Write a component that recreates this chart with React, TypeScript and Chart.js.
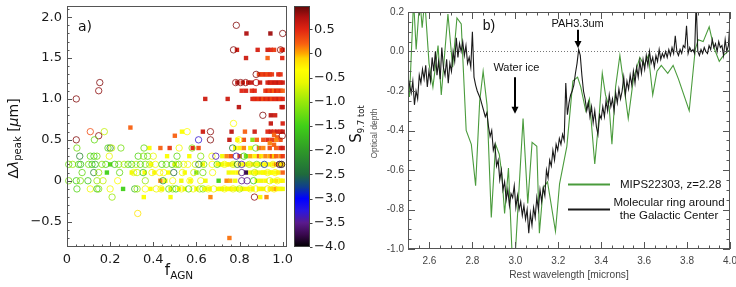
import React, { useEffect, useRef } from "react";
import { Chart, registerables } from "chart.js";

Chart.register(...registerables);

// ---------------- Panel a) data ----------------
const fAgnTicks = [0, 0.2, 0.4, 0.6, 0.8, 1.0];
const dLambdaTicks = [-0.5, 0, 0.5, 1.0, 1.5, 2.0];
const s97Ticks = [-4.0, -3.5, -3.0, -2.5, -2.0, -1.5, -1.0, -0.5, 0, 0.5];

// [f_AGN, delta lambda_peak, S_9.7 tot] — open circles
const hollowPoints: [number, number, number][] = [
  [0.785, 1.9, 0.88], [1.0, 1.8, 0.88], [0.772, 1.6, 0.88], [0.99, 1.6, 0.88],
  [0.877, 1.3, 0.9], [0.152, 1.2, 0.88], [0.782, 1.2, 0.85], [0.805, 1.2, 0.85], [0.828, 1.2, 0.85], [0.877, 1.2, 0.75],
  [0.147, 1.1, 0.85], [0.043, 1.0, 0.88], [0.908, 0.8, 0.88], [0.772, 0.7, -0.4],
  [0.108, 0.6, 0.3], [0.173, 0.6, -0.8], [0.557, 0.6, -0.35], [0.665, 0.6, 0.85],
  [0.147, 0.55, 0.85], [0.998, 0.55, 0.85],
  [0.043, 0.5, 0.88], [0.127, 0.5, -1.3], [0.61, 0.5, -3.3], [0.665, 0.5, 0.88], [0.797, 0.5, -0.4],
  [0.046, 0.4, -1.2], [0.19, 0.4, -1.4], [0.2, 0.4, -2.2], [0.207, 0.4, -0.8], [0.25, 0.4, -1.2], [0.357, 0.4, -1.3],
  [0.52, 0.4, -0.5], [0.58, 0.4, -1.1], [0.768, 0.4, -2.3], [0.875, 0.4, -1.3],
  [0.059, 0.3, -2.2], [0.108, 0.3, -1.3], [0.125, 0.3, -1.5], [0.139, 0.3, -1.2], [0.196, 0.3, -0.6], [0.33, 0.3, -1.4],
  [0.355, 0.3, -1.1], [0.374, 0.3, -1.3], [0.4, 0.3, -0.6], [0.51, 0.3, -1.3], [0.62, 0.3, -1.1], [0.672, 0.3, -0.5],
  [0.69, 0.3, -3.4], [0.785, 0.3, -3.4], [0.82, 0.3, -1.5],
  [0.008, 0.2, -1.3], [0.026, 0.2, -1.0], [0.054, 0.2, -1.4], [0.063, 0.2, -1.7], [0.1, 0.2, -1.2], [0.116, 0.2, -1.5],
  [0.131, 0.2, -1.8], [0.162, 0.2, -1.1], [0.18, 0.2, -1.4], [0.221, 0.2, -1.6], [0.24, 0.2, -1.2], [0.265, 0.2, -0.9],
  [0.283, 0.2, -1.3], [0.3, 0.2, -1.5], [0.32, 0.2, -0.8], [0.34, 0.2, -1.4], [0.363, 0.2, -1.2], [0.383, 0.2, -0.9],
  [0.41, 0.2, -0.5], [0.44, 0.2, -1.4], [0.46, 0.2, -1.2], [0.487, 0.2, -1.6], [0.505, 0.2, -0.9], [0.518, 0.2, -1.3],
  [0.541, 0.2, -0.6], [0.56, 0.2, -0.4], [0.595, 0.2, -0.8], [0.611, 0.2, -2.4], [0.634, 0.2, -1.2], [0.673, 0.2, -0.4],
  [0.696, 0.2, -1.4], [0.73, 0.2, -0.5], [0.77, 0.2, -0.7], [0.79, 0.2, -2.3], [0.81, 0.2, -3.4], [0.845, 0.2, -0.9],
  [0.88, 0.2, -1.2], [0.915, 0.2, -2.8], [0.955, 0.2, -0.6], [0.985, 0.2, -3.8], [0.995, 0.2, -3.9],
  [0.07, 0.1, -1.3], [0.124, 0.1, -2.2], [0.147, 0.1, -1.0], [0.244, 0.1, -1.3], [0.309, 0.1, -0.5], [0.325, 0.1, -0.8],
  [0.353, 0.1, -1.6], [0.394, 0.1, -0.6], [0.43, 0.1, -0.3], [0.448, 0.1, -0.5], [0.495, 0.1, -2.5], [0.535, 0.1, -0.6],
  [0.588, 0.1, -0.7], [0.63, 0.1, -1.2], [0.675, 0.1, -0.5], [0.81, 0.1, -3.5], [0.87, 0.1, -0.8], [0.93, 0.1, -0.5], [0.965, 0.1, -0.3],
  [0.008, 0.0, -1.2], [0.043, 0.0, -1.5], [0.062, 0.0, -1.1], [0.097, 0.0, -1.6], [0.139, 0.0, -1.0], [0.167, 0.0, -0.8],
  [0.235, 0.0, -0.4], [0.363, 0.0, -1.0], [0.445, 0.0, -2.0], [0.49, 0.0, -0.5], [0.57, 0.0, -0.4], [0.62, 0.0, -0.6],
  [0.81, 0.0, -3.5], [0.835, 0.0, -3.5], [0.865, 0.0, -1.5], [0.94, 0.0, -0.7], [0.975, 0.0, -0.4],
  [0.046, -0.1, -1.4], [0.108, -0.1, -0.5], [0.139, -0.1, -1.6], [0.147, -0.1, -1.1], [0.2, -0.1, -0.5], [0.314, -0.1, -1.7],
  [0.325, -0.1, -1.0], [0.363, -0.1, -0.4], [0.414, -0.1, -0.6], [0.436, -0.1, -0.3], [0.472, -0.1, -1.3], [0.49, -0.1, -0.9],
  [0.505, -0.1, -1.5], [0.53, -0.1, -0.5], [0.564, -0.1, -1.4], [0.585, -0.1, -0.5], [0.615, -0.1, -0.9], [0.63, -0.1, -1.1],
  [0.655, -0.1, -0.4], [0.68, -0.1, -0.5], [0.73, -0.1, -0.4], [0.77, -0.1, -0.6], [0.8, -0.1, -0.9], [0.85, -0.1, -0.4],
  [0.875, -0.1, -0.3], [0.93, -0.1, -0.2], [0.96, -0.1, -0.3],
  [0.209, -0.2, -1.0], [0.869, -0.2, 0.85], [0.328, -0.4, -0.2],
];

// [f_AGN, delta lambda_peak, S_9.7 tot] — filled squares
const solidPoints: [number, number, number][] = [
  [0.832, 1.8, 0.75], [0.943, 1.8, 0.8],
  [0.788, 1.6, 0.6], [0.884, 1.6, 0.55], [0.93, 1.6, 0.6], [0.945, 1.6, 0.5], [0.96, 1.6, 0.4], [0.995, 1.6, 0.3], [1.0, 1.6, 0.5],
  [0.83, 1.5, 0.6], [0.93, 1.5, 0.2], [0.998, 1.5, 0.5],
  [0.89, 1.3, 0.35], [0.9, 1.3, 0.4], [0.91, 1.3, 0.35], [0.92, 1.3, 0.45], [0.93, 1.3, 0.3], [0.94, 1.3, 0.45], [0.95, 1.3, 0.4],
  [0.98, 1.3, 0.5], [0.99, 1.3, 0.45],
  [0.79, 1.2, 0.7], [0.815, 1.2, 0.55], [0.84, 1.2, 0.6], [0.855, 1.2, 0.65], [0.895, 1.2, 0.6], [0.93, 1.2, 0.55], [0.94, 1.2, 0.65],
  [0.95, 1.2, 0.5], [0.96, 1.2, 0.6], [0.97, 1.2, 0.55], [0.98, 1.2, 0.65], [0.99, 1.2, 0.5], [1.0, 1.2, 0.6],
  [0.81, 1.1, 0.5], [0.83, 1.1, 0.55], [0.857, 1.1, 0.45], [0.87, 1.1, 0.5], [0.92, 1.1, 0.4], [0.93, 1.1, 0.5], [0.94, 1.1, 0.3],
  [0.95, 1.1, 0.45], [0.96, 1.1, 0.2], [0.97, 1.1, 0.5], [0.98, 1.1, 0.35], [0.99, 1.1, 0.45], [1.0, 1.1, 0.2],
  [0.641, 1.0, 0.6], [0.745, 1.0, 0.6], [0.86, 1.0, 0.55], [0.87, 1.0, 0.45], [0.88, 1.0, 0.5], [0.89, 1.0, 0.4], [0.9, 1.0, 0.55],
  [0.91, 1.0, 0.3], [0.92, 1.0, 0.5], [0.93, 1.0, 0.4], [0.94, 1.0, 0.55], [0.95, 1.0, 0.35], [0.96, 1.0, 0.5], [0.97, 1.0, 0.45],
  [0.98, 1.0, 0.55], [0.99, 1.0, 0.4], [1.0, 1.0, 0.5],
  [0.797, 0.9, 0.7], [0.995, 0.9, 0.6], [1.0, 0.9, 0.65],
  [0.945, 0.8, 0.7], [0.965, 0.8, 0.6], [0.945, 0.7, 0.65], [1.0, 0.7, 0.55],
  [0.294, 0.65, 0.2],
  [0.533, 0.6, -0.4], [0.63, 0.6, 0.6], [0.763, 0.6, 0.7], [0.825, 0.6, 0.2], [0.87, 0.6, 0.6], [0.93, 0.6, 0.5], [0.945, 0.6, 0.6],
  [0.96, 0.6, 0.45], [0.975, 0.6, 0.6], [0.99, 0.6, 0.5], [1.0, 0.6, 0.65],
  [0.5, 0.55, 0.2], [0.96, 0.56, 0.2], [0.975, 0.53, 0.25],
  [0.753, 0.5, 0.65], [0.79, 0.5, -0.3], [0.82, 0.5, 0.3], [0.86, 0.5, -1.1], [0.88, 0.5, 0.2], [0.91, 0.5, 0.3], [0.93, 0.5, 0.5],
  [0.95, 0.5, 0.4], [0.97, 0.5, 0.1], [0.99, 0.5, 0.3],
  [0.94, 0.46, 0.1], [0.96, 0.44, 0.2],
  [0.382, 0.4, -0.4], [0.433, 0.4, 0.2], [0.476, 0.4, 0.4], [0.583, 0.4, 0.5], [0.61, 0.4, 0.3], [0.78, 0.4, -0.4], [0.8, 0.4, -0.3],
  [0.82, 0.4, 0.1], [0.85, 0.4, -0.5], [0.89, 0.4, 0.2], [0.91, 0.4, 0.1], [0.94, 0.4, 0.3], [0.97, 0.4, 0.2], [0.99, 0.4, 0.5], [1.0, 0.4, 0.6],
  [0.464, 0.3, -0.4], [0.567, 0.3, -0.4], [0.72, 0.3, -0.5], [0.74, 0.3, 0.1], [0.76, 0.3, 0.3], [0.8, 0.3, 0.4], [0.83, 0.3, -1.2],
  [0.85, 0.3, 0.0], [0.87, 0.3, -0.3], [0.89, 0.3, 0.2], [0.9, 0.3, -0.2], [0.92, 0.3, 0.1], [0.94, 0.3, 0.0], [0.95, 0.3, 0.3],
  [0.96, 0.3, -0.1], [0.97, 0.3, 0.2], [0.99, 0.3, 0.1], [1.0, 0.3, 0.4],
  [0.2, 0.2, -1.4], [0.39, 0.2, -0.4], [0.5, 0.2, -0.5], [0.63, 0.2, -0.4], [0.7, 0.2, -0.5], [0.71, 0.2, -0.3], [0.72, 0.2, -0.5],
  [0.74, 0.2, -0.4], [0.75, 0.2, -0.2], [0.77, 0.2, -0.5], [0.8, 0.2, -0.4], [0.82, 0.2, -0.3], [0.84, 0.2, -0.5], [0.86, 0.2, -0.2],
  [0.88, 0.2, -0.4], [0.9, 0.2, -0.5], [0.92, 0.2, -0.3], [0.94, 0.2, -0.4], [0.96, 0.2, -0.2], [0.97, 0.2, 0.1], [0.99, 0.2, -0.3], [1.0, 0.2, -0.1],
  [0.185, 0.1, -1.5], [0.3, 0.1, -0.5], [0.36, 0.1, -0.4], [0.405, 0.1, -0.3], [0.47, 0.1, -0.4], [0.546, 0.1, -0.4], [0.6, 0.1, -1.2],
  [0.75, 0.1, -0.5], [0.77, 0.1, -0.4], [0.79, 0.1, -0.3], [0.83, 0.1, -3.8], [0.85, 0.1, -0.5], [0.87, 0.1, -0.4], [0.88, 0.1, -0.3],
  [0.9, 0.1, -0.5], [0.91, 0.1, -0.4], [0.92, 0.1, -0.3], [0.94, 0.1, -0.45], [0.95, 0.1, -0.35], [0.97, 0.1, -0.4], [0.98, 0.1, -0.2], [1.0, 0.1, 0.2],
  [0.433, 0.0, 0.1], [0.456, 0.0, -0.4], [0.53, 0.0, -0.5], [0.572, 0.0, -0.4], [0.642, 0.0, -0.5], [0.703, 0.0, -1.5], [0.74, 0.0, 0.1],
  [0.757, 0.0, 0.0], [0.78, 0.0, -0.5], [0.88, 0.0, -0.4], [0.9, 0.0, -0.5], [0.92, 0.0, -0.3], [0.95, 0.0, -0.4], [0.97, 0.0, -0.2],
  [0.99, 0.0, -0.4], [1.0, 0.0, -0.3],
  [0.26, -0.1, -1.5], [0.387, -0.1, -0.4], [0.44, -0.1, -0.5], [0.48, -0.1, -0.4], [0.52, -0.1, -0.3], [0.545, -0.1, -0.5], [0.6, -0.1, -0.4],
  [0.64, -0.1, -0.4], [0.66, -0.1, -0.5], [0.7, -0.1, -0.5], [0.71, -0.1, -0.4], [0.72, -0.1, -0.6], [0.74, -0.1, -0.5], [0.75, -0.1, -0.4],
  [0.76, -0.1, -0.3], [0.78, -0.1, -0.5], [0.79, -0.1, -0.4], [0.81, -0.1, -0.5], [0.82, -0.1, -0.3], [0.84, -0.1, -0.4], [0.86, -0.1, -0.5],
  [0.89, -0.1, -0.4], [0.9, -0.1, -0.3], [0.91, -0.1, -0.5], [0.94, -0.1, -0.4], [0.95, -0.1, -0.1], [0.97, -0.1, 0.0], [0.98, -0.1, -0.3],
  [0.99, -0.1, -0.4], [1.0, -0.1, -0.5],
  [0.356, -0.2, -0.4], [0.48, -0.2, -0.4], [0.665, -0.2, 0.1], [0.896, -0.2, -0.4], [0.925, -0.2, 0.1],
  [0.753, -0.7, 0.15],
];

// ---------------- Panel b) data ----------------
const waveTicks = [2.6, 2.8, 3.0, 3.2, 3.4, 3.6, 3.8, 4.0];
const depthTicks = [-1.0, -0.8, -0.6, -0.4, -0.2, 0.0, 0.2];

const mipsWave = [
  2.5, 2.507, 2.526, 2.538, 2.555, 2.566, 2.578, 2.598, 2.616, 2.64, 2.655, 2.686, 2.708, 2.728, 2.748, 2.771, 2.795,
  2.815, 2.834, 2.85, 2.868, 2.888, 2.908, 2.925, 2.937, 2.95, 2.968, 2.985, 2.998, 3.036, 3.058, 3.078, 3.1, 3.112,
  3.13, 3.15, 3.187, 3.206, 3.24, 3.268, 3.29, 3.305, 3.328, 3.345, 3.37, 3.39, 3.405, 3.42, 3.437, 3.45, 3.467, 3.487,
  3.526, 3.55, 3.58, 3.6, 3.62, 3.64, 3.66, 3.68, 3.71, 3.735, 3.76, 3.81, 3.838, 3.852, 3.875, 3.903, 3.925, 3.95, 3.97, 4.0,
];
const mipsDepth = [
  -0.1, -0.23, 0.26, 0.01, 0.27, 0.12, 0.26, -0.06, -0.18, 0.03, -0.22, 0.19, -0.08, 0.17, 0.14, -0.4, -0.47,
  -0.68, -0.25, -0.1, -0.27, -0.84, -0.47, -0.52, -0.62, -0.82, -0.59, -1.03, -1.06, -0.34, -0.77, -0.46, -0.48, -0.92,
  -0.69, -0.66, -0.91, -0.67, -0.48, -0.15, -0.13, -0.18, -0.3, -0.24, -0.57, -0.33, -0.11, -0.22, -0.28, -0.47, -0.18, -0.02,
  -0.34, -0.14, -0.03, -0.07, -0.02, -0.22, -0.1, -0.07, -0.11, -0.07, -0.14, -0.3, 0.01, 0.06, 0.05, 0.125, 0.02, -0.05, -0.02, 0.01,
];

// Galactic Center molecular ring, sampled on a regular wavelength grid
const ringStart = 2.5;
const ringStep = 0.0075;
const ringDepth = [
  -0.13, -0.17, -0.21, -0.15, -0.27, -0.2, -0.24, -0.12, -0.16, -0.09, -0.14, -0.07, -0.18, -0.1, -0.15, -0.03, -0.1, 0.0, -0.12, -0.05,
  -0.14, 0.02, -0.08, -0.12, -0.04, -0.16, -0.06, -0.1, 0.0, -0.05, 0.07, -0.03, 0.04, 0.0, 0.05, -0.02, 0.03, -0.06, -0.03, -0.08,
  0.1, -0.13, -0.17, -0.2, -0.22, -0.24, -0.27, -0.3, -0.33, -0.31, -0.38, -0.43, -0.4, -0.5, -0.47, -0.58, -0.55, -0.65, -0.6, -0.7,
  -0.66, -0.75, -0.7, -0.78, -0.72, -0.74, -0.68, -0.79, -0.73, -0.8, -0.76, -0.83, -0.78, -0.85, -0.8, -0.92, -0.82, -0.88, -0.79, -0.84,
  -0.74, -0.8, -0.7, -0.76, -0.69, -0.73, -0.6, -0.64, -0.55, -0.58, -0.5, -0.55, -0.47, -0.5, -0.44, -0.47, -0.42, -0.45, -0.16, -0.32,
  -0.26, -0.22, -0.2, -0.17, -0.11, -0.06, 0.01, -0.02, -0.12, -0.2, -0.24, -0.3, -0.26, -0.33, -0.28, -0.36, -0.3, -0.38, -0.42, -0.32,
  -0.34, -0.28, -0.33, -0.25, -0.3, -0.22, -0.28, -0.24, -0.3, -0.21, -0.26, -0.19, -0.24, -0.2, -0.13, -0.22, -0.15, -0.19, -0.12, -0.17,
  -0.1, -0.16, -0.08, -0.13, -0.05, -0.11, -0.04, -0.09, -0.02, -0.07, 0.0, -0.06, -0.03, -0.08, -0.02, -0.05, 0.01, -0.04, -0.01, -0.03,
  0.0, -0.03, 0.01, -0.02, 0.02, -0.01, 0.08, 0.0, -0.02, 0.01, -0.01, 0.03, 0.02, 0.13, -0.01, 0.02, 0.0, 0.01, -0.01, 0.25,
  0.0, -0.02, 0.01, -0.01, 0.02, 0.0, -0.01, 0.03, 0.01, 0.06, 0.02, 0.04, 0.0, 0.05, 0.02, 0.03, -0.02, 0.06, 0.0, 0.03,
  0.15,
];

// ---------------- styling ----------------
const MPL = "'DejaVu Sans', sans-serif";
const IDL = "'Liberation Sans', Arial, sans-serif";

const cmapStops: [number, string][] = [
  [-4.0, "#000000"], [-3.75, "#38084c"], [-3.5, "#5a1a8c"], [-3.25, "#2a16e0"], [-3.0, "#0000ff"],
  [-2.75, "#10408a"], [-2.5, "#1f6a3c"], [-2.0, "#2f9a28"], [-1.5, "#40d018"], [-1.0, "#98e80a"],
  [-0.6, "#eaf800"], [-0.35, "#ffff00"], [-0.1, "#ffd400"], [0.0, "#ffa800"], [0.2, "#f86010"],
  [0.5, "#e02412"], [0.75, "#b01010"], [0.98, "#600808"],
];
const S_MIN = -4.0;
const S_MAX = 0.98;

const hexRgb = (h: string) => [parseInt(h.slice(1, 3), 16), parseInt(h.slice(3, 5), 16), parseInt(h.slice(5, 7), 16)];
function sColor(s: number, alpha = 1): string {
  const st = cmapStops;
  let rgb = hexRgb(st[st.length - 1][1]);
  if (s <= st[0][0]) rgb = hexRgb(st[0][1]);
  else {
    for (let i = 1; i < st.length; i++) {
      if (s <= st[i][0]) {
        const t = (s - st[i - 1][0]) / (st[i][0] - st[i - 1][0]);
        const a = hexRgb(st[i - 1][1]);
        const b = hexRgb(st[i][1]);
        rgb = [0, 1, 2].map((k) => Math.round(a[k] + (b[k] - a[k]) * t));
        break;
      }
    }
  }
  return `rgba(${rgb[0]},${rgb[1]},${rgb[2]},${alpha})`;
}

const fmtMinus = (v: number) => (v === 0 ? "0" : (v < 0 ? "\u2212" : "") + Math.abs(v).toFixed(1));

type Run = { text: string; font: string; dy?: number };
function drawRuns(ctx: CanvasRenderingContext2D, runs: Run[], x: number, y: number, rot: number, color: string) {
  ctx.save();
  ctx.translate(x, y);
  ctx.rotate(rot);
  ctx.fillStyle = color;
  ctx.textBaseline = "alphabetic";
  ctx.textAlign = "left";
  let total = 0;
  const widths = runs.map((r) => {
    ctx.font = r.font;
    const w = ctx.measureText(r.text).width;
    total += w;
    return w;
  });
  let cx = -total / 2;
  runs.forEach((r, i) => {
    ctx.font = r.font;
    ctx.fillText(r.text, cx, r.dy || 0);
    cx += widths[i];
  });
  ctx.restore();
}

type TickCfg = {
  xMajor: number[]; xStep: number; yMajor: number[]; yStep: number;
  major: number; minor: number; sides: string[]; color: string;
};
function drawFrameAndTicks(chart: any, cfg: TickCfg) {
  const { ctx, chartArea: a } = chart;
  const xs = chart.scales.x;
  const ys = chart.scales.y;
  const isMajor = (v: number, arr: number[]) => arr.some((m) => Math.abs(m - v) < 1e-6);
  ctx.save();
  ctx.strokeStyle = cfg.color;
  ctx.lineWidth = 1;
  ctx.beginPath();
  const x0 = Math.ceil(xs.min / cfg.xStep - 1e-6), x1 = Math.floor(xs.max / cfg.xStep + 1e-6);
  for (let k = x0; k <= x1; k++) {
    const v = k * cfg.xStep;
    const len = isMajor(v, cfg.xMajor) ? cfg.major : cfg.minor;
    const px = Math.round(xs.getPixelForValue(v)) + 0.5;
    if (cfg.sides.includes("bottom")) { ctx.moveTo(px, a.bottom); ctx.lineTo(px, a.bottom - len); }
    if (cfg.sides.includes("top")) { ctx.moveTo(px, a.top); ctx.lineTo(px, a.top + len); }
  }
  const y0 = Math.ceil(ys.min / cfg.yStep - 1e-6), y1 = Math.floor(ys.max / cfg.yStep + 1e-6);
  for (let k = y0; k <= y1; k++) {
    const v = k * cfg.yStep;
    const len = isMajor(v, cfg.yMajor) ? cfg.major : cfg.minor;
    const py = Math.round(ys.getPixelForValue(v)) + 0.5;
    if (cfg.sides.includes("left")) { ctx.moveTo(a.left, py); ctx.lineTo(a.left + len, py); }
    if (cfg.sides.includes("right")) { ctx.moveTo(a.right, py); ctx.lineTo(a.right - len, py); }
  }
  ctx.stroke();
  ctx.strokeRect(Math.round(a.left) + 0.5, Math.round(a.top) + 0.5, Math.round(a.right - a.left) - 1, Math.round(a.bottom - a.top) - 1);
  ctx.restore();
}

function drawArrow(ctx: CanvasRenderingContext2D, x: number, yFrom: number, yTo: number) {
  const head = 7;
  ctx.save();
  ctx.strokeStyle = "#000";
  ctx.fillStyle = "#000";
  ctx.lineWidth = 2;
  ctx.beginPath();
  ctx.moveTo(x, yFrom);
  ctx.lineTo(x, yTo - head + 1);
  ctx.stroke();
  ctx.beginPath();
  ctx.moveTo(x - 3.5, yTo - head);
  ctx.lineTo(x + 3.5, yTo - head);
  ctx.lineTo(x, yTo);
  ctx.closePath();
  ctx.fill();
  ctx.restore();
}

// ---------------- chart builders ----------------
function buildScatter(canvas: HTMLCanvasElement) {
  const deco = {
    id: "decoA",
    afterDatasetsDraw(chart: any) {
      drawFrameAndTicks(chart, {
        xMajor: fAgnTicks, xStep: 0.04, yMajor: dLambdaTicks, yStep: 0.1,
        major: 5, minor: 2.5, sides: ["bottom", "left"], color: "#555",
      });
    },
    afterDraw(chart: any) {
      const { ctx, chartArea: a } = chart;
      ctx.save();
      ctx.fillStyle = "#111";
      ctx.font = `14px ${MPL}`;
      ctx.textBaseline = "alphabetic";
      ctx.fillText("a)", a.left + 11, a.top + 25);
      ctx.restore();
      drawRuns(ctx, [
        { text: "\u0394", font: `14px ${MPL}` },
        { text: "\u03bb", font: `oblique 14px ${MPL}` },
        { text: "peak", font: `10px ${MPL}`, dy: 3 },
        { text: " [", font: `14px ${MPL}` },
        { text: "\u03bc", font: `oblique 14px ${MPL}` },
        { text: "m]", font: `14px ${MPL}` },
      ], 18, (a.top + a.bottom) / 2 + 12, -Math.PI / 2, "#111");
      drawRuns(ctx, [
        { text: "f", font: `15px ${MPL}` },
        { text: "AGN", font: `10.5px ${MPL}`, dy: 3.5 },
      ], (a.left + a.right) / 2 + 2, 275, 0, "#111");
    },
  };
  return new Chart(canvas, {
    type: "scatter",
    data: {
      datasets: [
        {
          data: hollowPoints.map((p) => ({ x: p[0], y: p[1] })),
          pointStyle: "circle",
          pointRadius: 3.2,
          pointBorderWidth: 1,
          pointBackgroundColor: "rgba(0,0,0,0)",
          pointBorderColor: hollowPoints.map((p) => sColor(p[2], 0.8)),
          clip: false,
        },
        {
          data: solidPoints.map((p) => ({ x: p[0], y: p[1] })),
          pointStyle: "rect",
          pointRadius: 3.1,
          pointBorderWidth: 0,
          pointBackgroundColor: solidPoints.map((p) => sColor(p[2], 0.95)),
          clip: false,
        },
      ],
    } as any,
    options: {
      animation: false,
      responsive: false,
      devicePixelRatio: 1,
      events: [],
      layout: { padding: { left: 0, right: 5, top: 6, bottom: 0 } },
      plugins: { legend: { display: false }, tooltip: { enabled: false } },
      scales: {
        x: {
          type: "linear", min: 0, max: 1.02,
          afterBuildTicks: (s: any) => { s.ticks = fAgnTicks.map((v) => ({ value: v })); },
          afterFit: (s: any) => { s.height = 40; s.paddingLeft = 0; s.paddingRight = 0; },
          grid: { display: false, drawTicks: false },
          border: { display: false },
          ticks: { padding: 5, autoSkip: false, maxRotation: 0, color: "#1a1a1a", font: { family: MPL, size: 13 },
            callback: (v: any) => (Number(v) === 0 ? "0" : Number(v).toFixed(1)) },
        },
        y: {
          type: "linear", min: -0.81, max: 2.136,
          afterBuildTicks: (s: any) => { s.ticks = dLambdaTicks.map((v) => ({ value: v })); },
          afterFit: (s: any) => { s.width = 67; s.paddingTop = 0; s.paddingBottom = 0; },
          grid: { display: false, drawTicks: false },
          border: { display: false },
          ticks: { padding: 5, autoSkip: false, color: "#1a1a1a", font: { family: MPL, size: 13 },
            callback: (v: any) => fmtMinus(Number(v)) },
        },
      },
    } as any,
    plugins: [deco],
  });
}

function buildColorbar(canvas: HTMLCanvasElement) {
  const bar = {
    id: "cbar",
    beforeDatasetsDraw(chart: any) {
      const { ctx, chartArea: a } = chart;
      const ys = chart.scales.y;
      const g = ctx.createLinearGradient(0, ys.getPixelForValue(S_MIN), 0, ys.getPixelForValue(S_MAX));
      cmapStops.forEach(([v, c]) => g.addColorStop(Math.min(1, Math.max(0, (v - S_MIN) / (S_MAX - S_MIN))), c));
      ctx.save();
      ctx.fillStyle = g;
      ctx.fillRect(a.left, a.top, a.right - a.left, a.bottom - a.top);
      ctx.strokeStyle = "#444";
      ctx.lineWidth = 1;
      ctx.strokeRect(Math.round(a.left) + 0.5, Math.round(a.top) + 0.5, Math.round(a.right - a.left) - 1, Math.round(a.bottom - a.top) - 1);
      ctx.beginPath();
      s97Ticks.forEach((v) => {
        const py = Math.round(ys.getPixelForValue(v)) + 0.5;
        ctx.moveTo(a.right, py);
        ctx.lineTo(a.right + 2.5, py);
      });
      ctx.stroke();
      ctx.restore();
      drawRuns(ctx, [
        { text: "S", font: `15px ${MPL}` },
        { text: "9.7 tot", font: `8.5px ${MPL}`, dy: 3 },
      ], 71, 124, -Math.PI / 2, "#111");
    },
  };
  return new Chart(canvas, {
    type: "scatter",
    data: { datasets: [] },
    options: {
      animation: false,
      responsive: false,
      devicePixelRatio: 1,
      events: [],
      layout: { padding: { left: 4, right: 0, top: 6, bottom: 40 } },
      plugins: { legend: { display: false }, tooltip: { enabled: false } },
      scales: {
        x: { type: "linear", display: false, min: 0, max: 1 },
        y: {
          type: "linear", position: "right", min: S_MIN, max: S_MAX,
          afterBuildTicks: (s: any) => { s.ticks = s97Ticks.map((v) => ({ value: v })); },
          afterFit: (s: any) => { s.width = 58; s.paddingTop = 0; s.paddingBottom = 0; },
          grid: { display: false, drawTicks: false },
          border: { display: false },
          ticks: { padding: 4, autoSkip: false, color: "#1a1a1a", font: { family: MPL, size: 13 },
            callback: (v: any) => fmtMinus(Number(v)) },
        },
      },
    } as any,
    plugins: [bar],
  });
}

function buildSpectrum(canvas: HTMLCanvasElement) {
  const deco = {
    id: "decoB",
    beforeDatasetsDraw(chart: any) {
      const { ctx, chartArea: a } = chart;
      const py = Math.round(chart.scales.y.getPixelForValue(0)) + 0.5;
      ctx.save();
      ctx.strokeStyle = "#777";
      ctx.lineWidth = 1;
      ctx.setLineDash([1, 2]);
      ctx.beginPath();
      ctx.moveTo(a.left, py);
      ctx.lineTo(a.right, py);
      ctx.stroke();
      ctx.restore();
    },
    afterDatasetsDraw(chart: any) {
      drawFrameAndTicks(chart, {
        xMajor: waveTicks, xStep: 0.05, yMajor: depthTicks, yStep: 0.05,
        major: 7, minor: 3.5, sides: ["bottom", "top", "left", "right"], color: "#555",
      });
      const { ctx, chartArea: a } = chart;
      const xs = chart.scales.x;
      const ys = chart.scales.y;
      drawArrow(ctx, Math.round(xs.getPixelForValue(3.29)), ys.getPixelForValue(0.11), ys.getPixelForValue(0.018));
      drawArrow(ctx, Math.round(xs.getPixelForValue(3.0)), ys.getPixelForValue(-0.13), ys.getPixelForValue(-0.315));
      ctx.save();
      ctx.fillStyle = "#111";
      ctx.textBaseline = "middle";
      ctx.textAlign = "center";
      ctx.font = `11px ${IDL}`;
      ctx.fillText("PAH3.3um", xs.getPixelForValue(3.29), ys.getPixelForValue(0.14));
      ctx.fillText("Water ice", xs.getPixelForValue(3.005), ys.getPixelForValue(-0.085));
      ctx.textAlign = "left";
      ctx.font = `14px ${IDL}`;
      ctx.fillText("b)", xs.getPixelForValue(2.848), ys.getPixelForValue(0.13));
      const lx0 = a.left + 160;
      const lx1 = a.left + 202;
      ctx.lineWidth = 2;
      ctx.strokeStyle = "#4a9b3c";
      ctx.beginPath();
      ctx.moveTo(lx0, a.top + 172.5);
      ctx.lineTo(lx1, a.top + 172.5);
      ctx.stroke();
      ctx.strokeStyle = "#1a1a1a";
      ctx.beginPath();
      ctx.moveTo(lx0, a.top + 197.5);
      ctx.lineTo(lx1, a.top + 197.5);
      ctx.stroke();
      ctx.font = `11.5px ${IDL}`;
      ctx.fillStyle = "#111";
      ctx.textAlign = "left";
      ctx.fillText("MIPS22303, z=2.28", a.left + 212, a.top + 173);
      ctx.textAlign = "center";
      ctx.fillText("Molecular ring around", a.left + 261, a.top + 191);
      ctx.fillText("the Galactic Center", a.left + 261, a.top + 204);
      ctx.restore();
    },
    afterDraw(chart: any) {
      const { ctx, chartArea: a } = chart;
      drawRuns(ctx, [{ text: "Rest wavelength [microns]", font: `10.2px ${IDL}` }], (a.left + a.right) / 2, 278, 0, "#444");
      drawRuns(ctx, [{ text: "Optical depth", font: `8.5px ${IDL}` }], 6.5, (a.top + a.bottom) / 2 + 3, -Math.PI / 2, "#555");
    },
  };
  return new Chart(canvas, {
    type: "scatter",
    data: {
      datasets: [
        {
          data: ringDepth.map((d, i) => ({ x: ringStart + i * ringStep, y: d })),
          showLine: true, borderColor: "#1a1a1a", borderWidth: 1.1, pointRadius: 0, tension: 0, clip: 0,
        },
        {
          data: mipsWave.map((w, i) => ({ x: w, y: mipsDepth[i] })),
          showLine: true, borderColor: "#4a9b3c", borderWidth: 1.1, pointRadius: 0, tension: 0, clip: 0,
        },
      ],
    } as any,
    options: {
      animation: false,
      responsive: false,
      devicePixelRatio: 1,
      events: [],
      layout: { padding: { left: 0, right: 6, top: 12, bottom: 0 } },
      plugins: { legend: { display: false }, tooltip: { enabled: false } },
      scales: {
        x: {
          type: "linear", min: 2.5, max: 4.0,
          afterBuildTicks: (s: any) => { s.ticks = waveTicks.map((v) => ({ value: v })); },
          afterFit: (s: any) => { s.height = 38; s.paddingLeft = 0; s.paddingRight = 0; },
          grid: { display: false, drawTicks: false },
          border: { display: false },
          ticks: { padding: 6, autoSkip: false, maxRotation: 0, color: "#444", font: { family: IDL, size: 10 },
            callback: (v: any) => Number(v).toFixed(1) },
        },
        y: {
          type: "linear", min: -1.0, max: 0.2,
          afterBuildTicks: (s: any) => { s.ticks = depthTicks.map((v) => ({ value: v })); },
          afterFit: (s: any) => { s.width = 38; s.paddingTop = 0; s.paddingBottom = 0; },
          grid: { display: false, drawTicks: false },
          border: { display: false },
          ticks: { padding: 4, autoSkip: false, color: "#444", font: { family: IDL, size: 10 },
            callback: (v: any) => Number(v).toFixed(1) },
        },
      },
    } as any,
    plugins: [deco],
  });
}

export default function App() {
  const aRef = useRef<HTMLCanvasElement>(null);
  const cRef = useRef<HTMLCanvasElement>(null);
  const bRef = useRef<HTMLCanvasElement>(null);
  useEffect(() => {
    const c1 = buildScatter(aRef.current!);
    const c2 = buildColorbar(cRef.current!);
    const c3 = buildSpectrum(bRef.current!);
    return () => {
      c1.destroy();
      c2.destroy();
      c3.destroy();
    };
  }, []);
  return (
    <div style={{ position: "absolute", left: 0, top: 0, width: 736, height: 287, background: "#fff", overflow: "hidden" }}>
      <canvas ref={aRef} width={292} height={287} style={{ position: "absolute", left: 0, top: 0 }} />
      <canvas ref={cRef} width={78} height={287} style={{ position: "absolute", left: 290, top: 0 }} />
      <canvas ref={bRef} width={366} height={287} style={{ position: "absolute", left: 370, top: 0 }} />
    </div>
  );
}
